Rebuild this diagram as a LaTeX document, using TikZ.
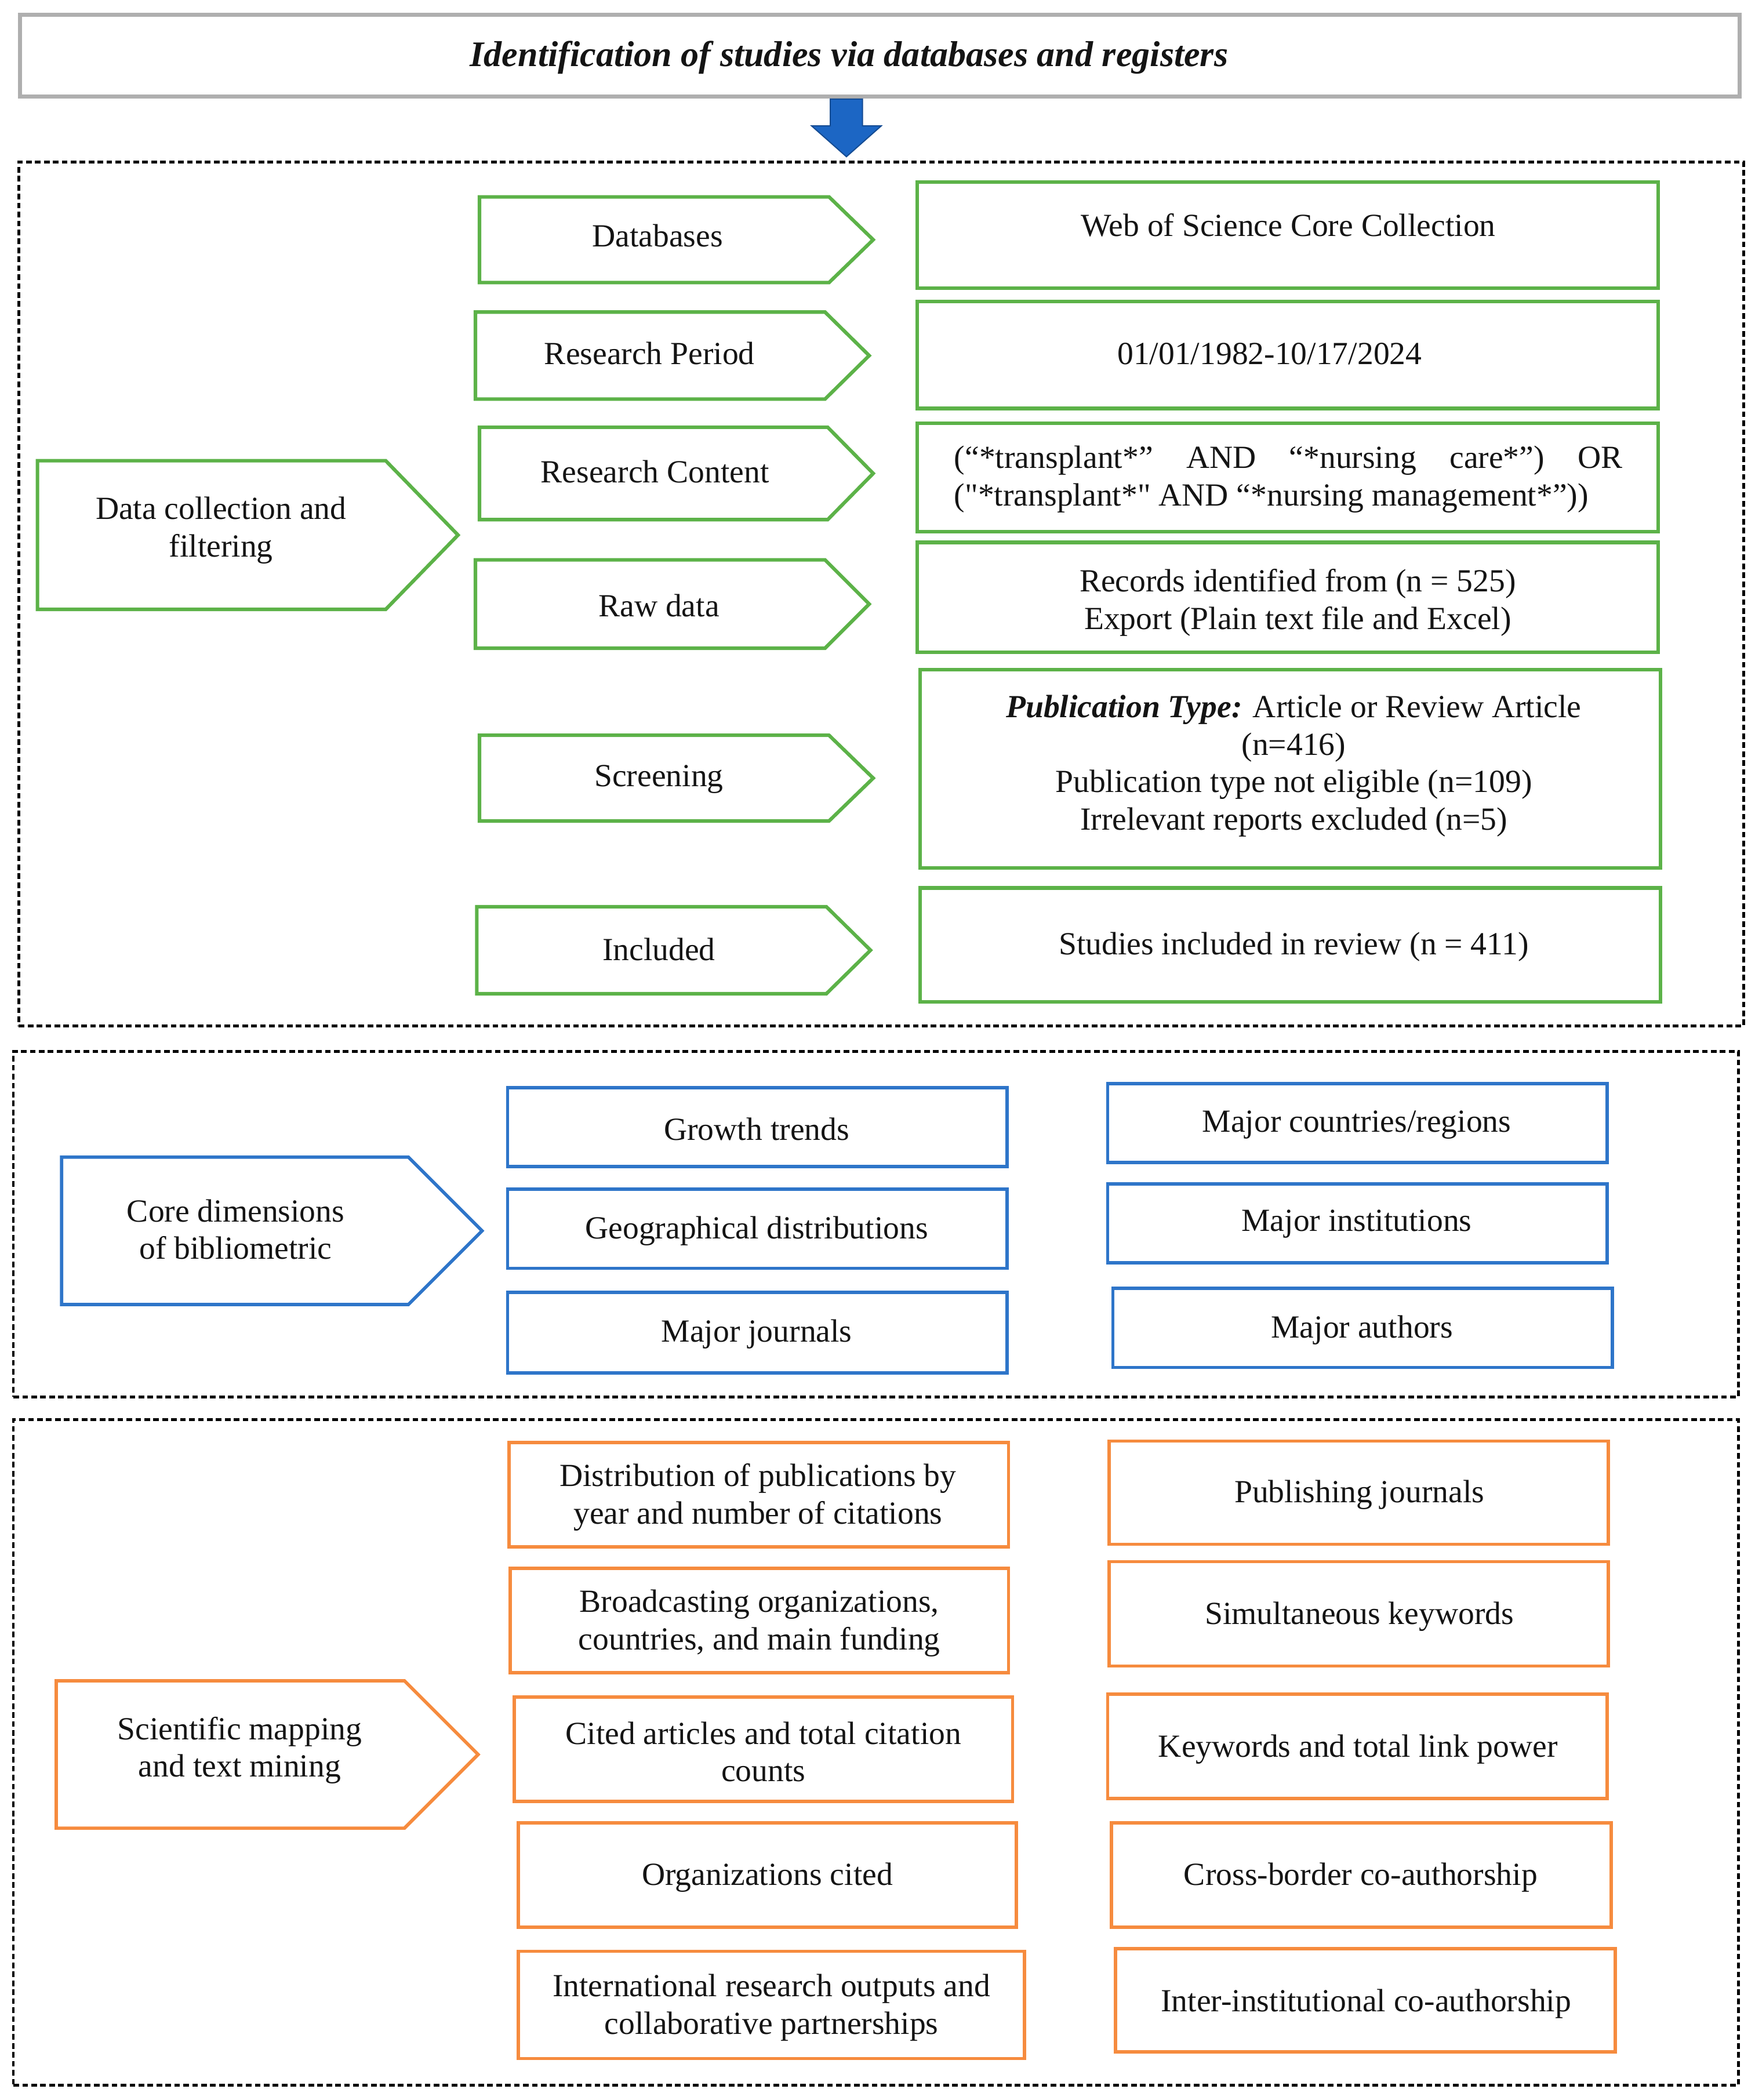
\documentclass[tikz,border=0pt]{standalone}
\usepackage{fontspec}
\setmainfont{Liberation Serif}
\newfontfamily\nomap{Liberation Serif}[Ligatures=TeXOff]
\usetikzlibrary{fit,calc}
\definecolor{textc}{RGB}{20,20,20}
\definecolor{grn}{RGB}{92,178,72}
\definecolor{blu}{RGB}{46,117,201}
\definecolor{org}{RGB}{246,139,62}
\definecolor{arrblue}{RGB}{28,102,196}
\definecolor{titlegray}{RGB}{175,175,175}
\newcommand\pentpath[6]{\draw[#1] (#2,#3) -- ({#4-#6},#3) -- (#4,{(#3+#5)/2}) -- ({#4-#6},#5) -- (#2,#5) -- cycle;}
\newcommand\recpath[5]{\draw[#1] (#2,#3) rectangle (#4,#5);}
\newcommand\sq{{\nomap"}}
\begin{document}
\begin{tikzpicture}[x=0.02cm,y=-0.02cm,
  txt/.style={font=\fontsize{13.7pt}{15.9pt}\selectfont, text=textc, align=center, inner sep=0pt},
  gline/.style={draw=grn, line width=1.5pt, line join=miter},
  bline/.style={draw=blu, line width=1.4pt, line join=miter},
  oline/.style={draw=org, line width=1.4pt, line join=miter},
  dashbox/.style={draw=black, line width=1.1pt, dash pattern=on 2.4pt off 1.4pt, inner sep=0pt},
]
\useasboundingbox (0,0) rectangle (1310,1568);

% title
\node[draw=titlegray, line width=1.8pt, fit={(15,11) (1299,72)}, inner sep=0pt] (titlebox) {};
\node[txt, font=\fontsize{15.3pt}{18pt}\selectfont] (title) at (634,43) {\textbf{\textit{Identification of studies via databases and registers}}};

% section frames
\node[dashbox, fit={(14,121) (1302,766)}] (sec1) {};
\node[dashbox, fit={(10,785) (1298,1043)}] (sec2) {};
\node[dashbox, fit={(10,1060) (1298,1557)}] (sec3) {};

% blue block arrow
\coordinate (arrtop) at (632,74);
\coordinate (arrtip) at (632,117);
\draw[fill=arrblue, draw=arrblue!75!black, line width=0.5pt, line join=miter]
  ($(arrtop)+(-12,0)$) -- ($(arrtop)+(12,0)$) -- ($(arrtop)+(12,20)$) -- ($(arrtop)+(26,20)$)
  -- (arrtip) -- ($(arrtop)+(-26,20)$) -- ($(arrtop)+(-12,20)$) -- cycle;

% ---------- section 1 ----------
\pentpath{gline}{28}{344}{342}{455}{54}
\node[txt] (datacoll) at (165,396) {Data collection and\\filtering};

\pentpath{gline}{358}{147}{652}{211}{33}
\node[txt] (db) at (491,176) {Databases};
\pentpath{gline}{355}{233}{649}{298}{33}
\node[txt] (rp) at (485,264) {Research Period};
\pentpath{gline}{358}{319}{652}{388}{34}
\node[txt] (rc) at (489,352) {Research Content};
\pentpath{gline}{355}{418}{649}{484}{33}
\node[txt] (raw) at (492,452) {Raw data};
\pentpath{gline}{358}{549}{652}{613}{33}
\node[txt] (scr) at (492,582) {Screening};
\pentpath{gline}{356}{677}{650}{742}{33}
\node[txt] (inc) at (492,709) {Included};

\recpath{gline}{685}{136}{1238}{215}
\node[txt] (wos) at (962,168) {Web of Science Core Collection};
\recpath{gline}{685}{225}{1238}{305}
\node[txt] (per) at (948,264) {01/01/1982-10/17/2024};
\recpath{gline}{685}{316}{1238}{397}
\node[txt, align=justify] (qry) at (962,358) {\parbox{9.98cm}{\noindent(“*transplant*” AND “*nursing care*”) OR\linebreak (\sq*transplant*\sq{} AND “*nursing management*”))}};
\recpath{gline}{685}{405}{1238}{487}
\node[txt] (rec) at (969,450) {Records identified from (n = 525)\\Export (Plain text file and Excel)};
\recpath{gline}{687}{500}{1240}{648}
\node[txt] (pub) at (966,572) {\textbf{\textit{Publication Type:}} Article or Review Article\\(n=416)\\Publication type not eligible (n=109)\\Irrelevant reports excluded (n=5)};
\recpath{gline}{687}{663}{1240}{748}
\node[txt] (stu) at (966,707) {Studies included in review (n = 411)};

% ---------- section 2 ----------
\pentpath{bline}{46}{864}{360}{974}{55}
\node[txt] (core) at (176,918) {Core dimensions\\of bibliometric};

\recpath{bline}{379}{812}{752}{871}
\node[txt] (gro) at (565,843) {Growth trends};
\recpath{bline}{379}{888}{752}{947}
\node[txt] (geo) at (565,919) {Geographical distributions};
\recpath{bline}{379}{965}{752}{1025}
\node[txt] (jou) at (565,996) {Major journals};
\recpath{bline}{827}{809}{1200}{868}
\node[txt] (cty) at (1013,840) {Major countries/regions};
\recpath{bline}{827}{884}{1200}{943}
\node[txt] (ins) at (1013,914) {Major institutions};
\recpath{bline}{831}{962}{1204}{1021}
\node[txt] (aut) at (1017,993) {Major authors};

% ---------- section 3 ----------
\pentpath{oline}{42}{1255}{357}{1365}{55}
\node[txt] (sci) at (179,1307) {Scientific mapping\\and text mining};

\recpath{oline}{380}{1077}{753}{1155}
\node[txt] (o1) at (566,1118) {Distribution of publications by\\year and number of citations};
\recpath{oline}{381}{1171}{753}{1249}
\node[txt] (o2) at (567,1212) {Broadcasting organizations,\\countries, and main funding};
\recpath{oline}{384}{1267}{756}{1345}
\node[txt] (o3) at (570,1308) {Cited articles and total citation\\counts};
\recpath{oline}{387}{1361}{759}{1439}
\node[txt] (o4) at (573,1402) {Organizations cited};
\recpath{oline}{387}{1457}{765}{1537}
\node[txt] (o5) at (576,1499) {International research outputs and\\collaborative partnerships};

\recpath{oline}{828}{1076}{1201}{1153}
\node[txt] (p1) at (1015,1116) {Publishing journals};
\recpath{oline}{828}{1166}{1201}{1244}
\node[txt] (p2) at (1015,1207) {Simultaneous keywords};
\recpath{oline}{827}{1265}{1200}{1343}
\node[txt] (p3) at (1014,1306) {Keywords and total link power};
\recpath{oline}{830}{1361}{1203}{1439}
\node[txt] (p4) at (1016,1402) {Cross-border co-authorship};
\recpath{oline}{833}{1455}{1206}{1532}
\node[txt] (p5) at (1020,1496) {Inter-institutional co-authorship};
\end{tikzpicture}
\end{document}
